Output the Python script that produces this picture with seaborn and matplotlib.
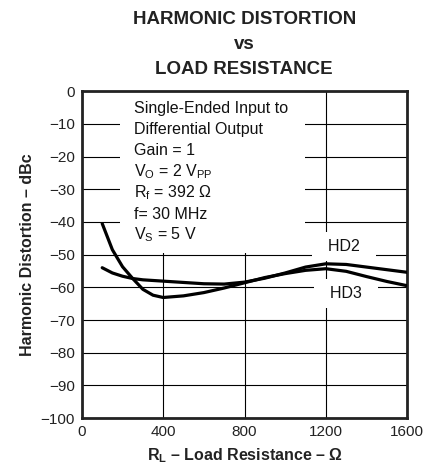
import matplotlib
matplotlib.use("Agg")
import matplotlib.pyplot as plt
import matplotlib.patches as mpatches
import seaborn as sns

# load resistance (ohm) and harmonic distortion (dBc)
rl = [100, 150, 200, 250, 300, 350, 400, 500, 600, 700, 800,
      900, 1000, 1100, 1200, 1300, 1400, 1500, 1600]
hd2 = [-54.0, -55.6, -56.6, -57.3, -57.7, -57.9, -58.1, -58.5, -58.9, -59.0, -58.4,
       -57.2, -55.6, -53.8, -52.8, -53.0, -53.8, -54.6, -55.4]
hd3 = [-40.5, -48.5, -53.7, -57.3, -60.6, -62.4, -63.1, -62.6, -61.6, -60.2, -58.6,
       -57.0, -55.8, -54.8, -54.3, -55.1, -56.7, -58.2, -59.5]

x_ticks = [0, 400, 800, 1200, 1600]
y_ticks = list(range(0, -101, -10))

title = "HARMONIC DISTORTION\nvs\nLOAD RESISTANCE"
conditions = [
    "Single-Ended Input to",
    "Differential Output",
    "Gain = 1",
    r"V$_\mathrm{O}$ = 2 V$_\mathrm{PP}$",
    r"R$_\mathrm{f}$ = 392 Ω",
    "f= 30 MHz",
    r"V$_\mathrm{S}$ = 5 V",
]

sns.set_theme(style="white")
plt.rcParams["font.family"] = ["Liberation Sans", "DejaVu Sans"]
plt.rcParams["mathtext.fontset"] = "custom"
plt.rcParams["mathtext.rm"] = "Liberation Sans"
plt.rcParams["mathtext.it"] = "Liberation Sans:italic"
plt.rcParams["mathtext.bf"] = "Liberation Sans:bold"
plt.rcParams["axes.unicode_minus"] = True

fig, ax = plt.subplots(figsize=(4.45, 4.72), dpi=100)
fig.subplots_adjust(left=0.184, right=0.915, bottom=0.114, top=0.807)

sns.lineplot(x=rl, y=hd2, ax=ax, color="black", lw=2.3, zorder=3)
sns.lineplot(x=rl, y=hd3, ax=ax, color="black", lw=2.3, zorder=3)

ax.set_xlim(0, 1600)
ax.set_ylim(-100, 0)
ax.set_xticks(x_ticks)
ax.set_yticks(y_ticks)
ax.set_axisbelow(True)
ax.grid(True, color="black", lw=0.8)
ax.tick_params(length=0, labelsize=11, pad=5, colors="#222222")
for sp in ax.spines.values():
    sp.set_color("#222222")
    sp.set_linewidth(2.0)

# white panel behind the test conditions
ax.add_patch(mpatches.Rectangle((0.117, 0.505), 0.569, 0.495, transform=ax.transAxes,
                                facecolor="white", edgecolor="none", zorder=1))
for i, line in enumerate(conditions):
    ax.annotate(line, xy=(256, -6.7), xytext=(0, -15.2 * i), textcoords="offset points",
                va="baseline", ha="left", fontsize=11.5, color="#111111", zorder=4)

ax.text(1290, -47.6, "  HD2  ", ha="center", va="center", fontsize=11.5, color="#111111",
        bbox=dict(boxstyle="square,pad=0.45", fc="white", ec="none"), zorder=1)
ax.text(1300, -61.9, "  HD3  ", ha="center", va="center", fontsize=11.5, color="#111111",
        bbox=dict(boxstyle="square,pad=0.45", fc="white", ec="none"), zorder=1)

ax.set_ylabel("Harmonic Distortion – dBc", fontsize=11.5, fontweight="bold", color="#222222")
ax.yaxis.label.set_va("center")
ax.yaxis.set_label_coords(-0.168, 0.5)
ax.set_xlabel(r"$\mathbf{R_L}$ – Load Resistance – Ω", fontsize=11.5,
              fontweight="bold", color="#222222")
ax.xaxis.label.set_va("center")
ax.xaxis.set_label_coords(0.5, -0.113)

fig.text(0.549, 1 - 44.5 / 472, title, ha="center", va="center", fontsize=13.5,
         fontweight="bold", linespacing=1.62, color="#222222")

fig.savefig("out.png", dpi=100)
